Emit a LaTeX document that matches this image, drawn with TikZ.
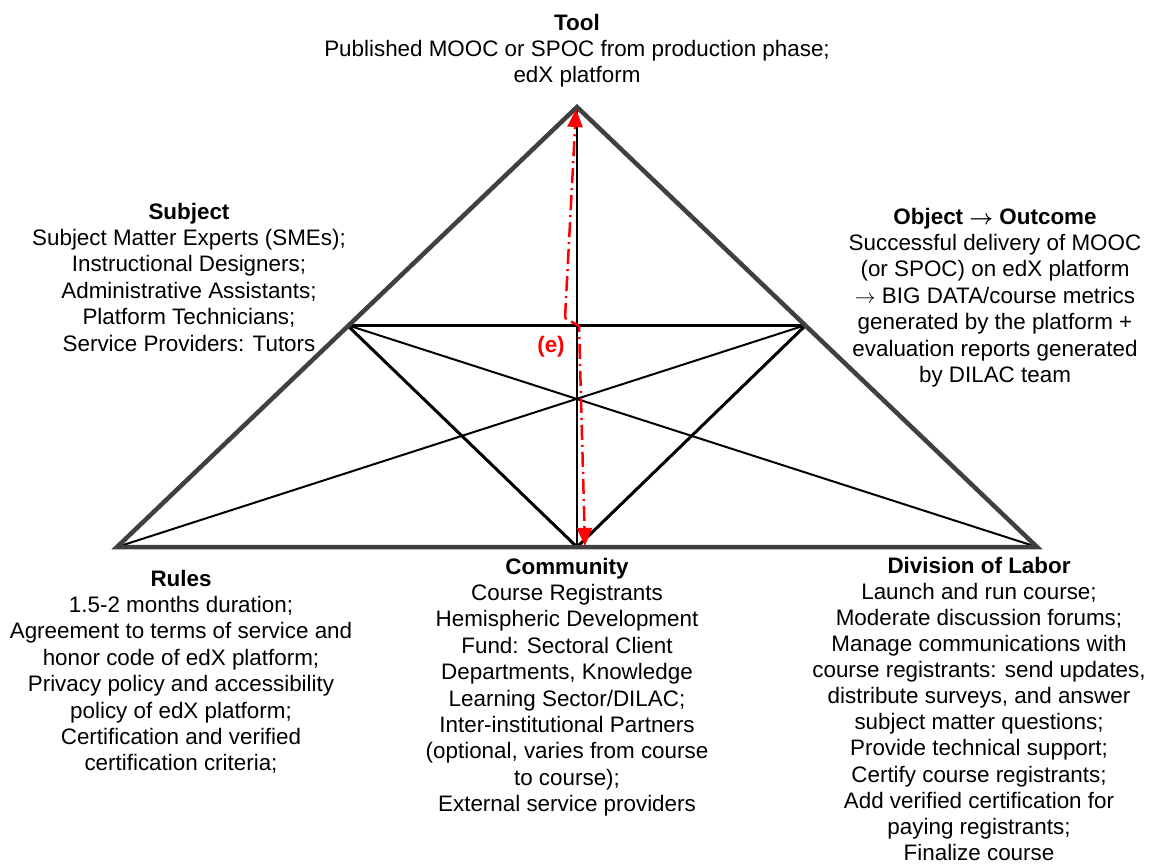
\documentclass[tikz,border=0pt]{standalone}
\usepackage{fontspec}
\setmainfont{Liberation Sans}
\usetikzlibrary{arrows.meta}
\definecolor{frame}{HTML}{404040}
\definecolor{flow}{HTML}{FF0000}
% centred block of lines whose reference point is the first baseline
\newcommand{\textblock}[1]{\begin{tabular}[t]{@{}c@{}}#1\end{tabular}}
\newcommand{\toarrow}{$\rightarrow$}
\tikzset{
  txt/.style={font=\fontsize{22.4}{26.4}\selectfont, inner sep=0pt, anchor=base},
  outer/.style={draw=frame, line width=4.5pt, line join=miter},
  inner/.style={draw=black, line width=3pt},
  thin/.style={draw=black, line width=2pt},
  flowline/.style={draw=flow, line width=2.5pt,
    dash pattern=on 15pt off 5pt on 2pt off 5pt,
    -{Triangle[length=18pt,width=15pt]}},
}
\begin{document}
\begin{tikzpicture}[x=1pt,y=-1pt]
\useasboundingbox (0,0) rectangle (1153,865);

% corner points of the activity triangle
\coordinate (A) at (577,107);
\coordinate (L) at (117,547);
\coordinate (R) at (1037,547);
\coordinate (B) at (577,547);
\coordinate (ML) at (347,325);
\coordinate (MR) at (806,325);

% inner structure
\draw[thin] (L) -- (MR);
\draw[thin] (R) -- (ML);
\draw[thin, line width=2.5pt] (A) -- (B);
\draw[inner] (ML) -- (MR);
\draw[inner] (ML) -- (B) -- (MR);

% outer triangle
\draw[outer] (L) -- (A) -- (R) -- cycle;

% tension flow between tool and community
\coordinate (f0) at (565,318);
\coordinate (f1) at (579,326);
\coordinate (fTop) at (576,109);
\coordinate (fBot) at (585,546);
\draw[flowline] (f0) -- (fTop);
\draw[flowline, dash pattern=on 2pt off 5pt on 15pt off 5pt] (f0) -- (f1) -- (fBot);
\node[txt, text=flow, font=\fontsize{22.4}{26.4}\selectfont\bfseries] (e) at (551,352) {(e)};

% labels
\node[txt] (tool) at (577,30) {\textblock{\textbf{Tool}\\Published MOOC or SPOC from production phase;\\edX platform}};

\node[txt] (subject) at (189,219) {\textblock{\textbf{Subject}\\Subject Matter Experts (SMEs);\\Instructional Designers;\\Administrative Assistants;\\Platform Technicians;\\Service Providers: Tutors}};

\node[txt] (object) at (995,224) {\textblock{{\bfseries\boldmath Object \toarrow\ Outcome}\\Successful delivery of MOOC\\(or SPOC) on edX platform\\\toarrow\ BIG DATA/course metrics\\generated by the platform +\\evaluation reports generated\\by DILAC team}};

\node[txt] (rules) at (181,586) {\textblock{\textbf{Rules}\\1.5-2 months duration;\\Agreement to terms of service and\\honor code of edX platform;\\Privacy policy and accessibility\\policy of edX platform;\\Certification and verified\\certification criteria;}};

\node[txt] (community) at (567,574) {\textblock{\textbf{Community}\\Course Registrants\\Hemispheric Development\\Fund: Sectoral Client\\Departments, Knowledge\\Learning Sector/DILAC;\\Inter-institutional Partners\\(optional, varies from course\\to course);\\External service providers}};

\node[txt] (labor) at (979,573) {\renewcommand{\arraystretch}{0.99}\textblock{\textbf{Division of Labor}\\Launch and run course;\\Moderate discussion forums;\\Manage communications with\\course registrants: send updates,\\distribute surveys, and answer\\subject matter questions;\\Provide technical support;\\Certify course registrants;\\Add verified certification for\\paying registrants;\\Finalize course}};
\end{tikzpicture}
\end{document}
